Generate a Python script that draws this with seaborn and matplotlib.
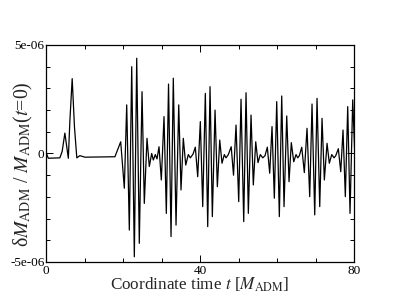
import numpy as np
import pandas as pd
import matplotlib
matplotlib.use("Agg")
import matplotlib.pyplot as plt
import seaborn as sns
from matplotlib.ticker import MultipleLocator, FixedLocator, FixedFormatter

# coordinate time [M_ADM] and relative ADM-mass change (units of 1e-6)
t = [0.0, 0.6, 3.6, 4.2, 4.9, 5.8, 6.2, 6.8, 7.4, 8.0, 8.8, 10.1, 17.9,
     19.4, 20.34, 20.96, 21.64, 22.26, 22.94, 23.56, 24.23, 24.94, 25.53,
     26.23, 26.83, 27.45, 27.87, 28.39, 28.83, 29.35, 29.95, 30.65, 31.25,
     31.82, 32.47, 33.06, 33.77, 34.47, 35.06, 35.66, 36.29, 36.96, 37.48,
     38.18, 38.78, 39.4, 40.08, 40.7, 41.38, 42.0, 42.6, 43.2, 43.9, 44.5,
     45.12, 45.71, 46.31, 46.75, 47.35, 48.1, 48.7, 49.35, 50.05, 50.65,
     51.35, 51.95, 52.55, 53.25, 53.84, 54.47, 55.06, 55.66, 56.29, 56.88,
     57.48, 58.1, 58.7, 59.3, 59.92, 60.6, 61.22, 61.82, 62.52, 63.12,
     63.71, 64.34, 64.94, 65.38, 65.8, 66.42, 67.09, 67.79, 68.49, 69.09,
     69.79, 70.39, 71.09, 71.69, 72.29, 72.99, 73.58, 74.21, 74.81, 75.25,
     75.92, 76.55, 77.14, 77.74, 78.36, 78.96, 79.66, 80.3]
dm = [0.05, -0.22, -0.2, 0.1, 0.94, -0.22, 1.5, 3.45, 1.2, -0.2, -0.1, -0.17, -0.15,
      0.54, -1.6, 2.24, -3.53, 4.0, -4.76, 4.39, -4.14, 2.85, -2.3,
      0.7, -0.6, 0.0, -0.3, -0.05, -0.25, 0.31, -1.22, 1.7, -2.76,
      3.2, -3.83, 3.47, -3.3, 2.24, -1.68, 0.7, -0.53, -0.05, -0.2,
      -0.03, 0.29, -1.07, 1.47, -2.45, 2.77, -3.37, 3.08, -2.91, 2.0, -1.53,
      0.62, -0.45, -0.05, -0.2, -0.05, 0.31, -1.0, 1.31, -2.22, 2.5,
      -3.14, 2.8, -2.76, 1.77, -1.45, 0.54, -0.42, -0.05, -0.2, -0.1,
      0.29, -0.91, 1.24, -2.06, 2.39, -2.91, 2.65, -2.45, 1.73, -1.3,
      0.5, -0.38, -0.05, -0.2, -0.1, 0.29, -0.88, 1.16, -1.99, 2.28,
      -2.83, 2.54, -2.45, 1.62, -1.22, 0.47, -0.45, -0.05, -0.2, -0.1,
      0.22, -0.84, 1.08, -1.99, 2.16, -2.76, 2.47, -0.5]

x_ticks = [0, 40, 80]
x_labels = ["0", "40", "80"]
y_ticks = [-5e-6, 0, 5e-6]
y_labels = ["-5e-06", "0", "5e-06"]

df = pd.DataFrame({"t": t, "dm": np.array(dm) * 1e-6})

sns.set_style("ticks")
plt.rcParams["font.family"] = ["Liberation Serif", "DejaVu Serif"]
plt.rcParams["mathtext.fontset"] = "stix"

fig = plt.figure(figsize=(3.99, 3.08), dpi=100)
ax = fig.add_axes([0.1153, 0.1494, 0.772, 0.7045])

sns.lineplot(data=df, x="t", y="dm", ax=ax, color="black", linewidth=0.9,
             estimator=None, sort=False)

ax.set_xlim(0, 80)
ax.set_ylim(-5e-6, 5e-6)
ax.xaxis.set_major_locator(FixedLocator(x_ticks))
ax.xaxis.set_major_formatter(FixedFormatter(x_labels))
ax.xaxis.set_minor_locator(MultipleLocator(10))
ax.yaxis.set_major_locator(FixedLocator(y_ticks))
ax.yaxis.set_major_formatter(FixedFormatter(y_labels))
ax.yaxis.set_minor_locator(MultipleLocator(1e-6))

ax.tick_params(which="both", direction="in", top=True, right=True,
               labelsize=9.5, pad=1, width=0.7, colors="black")
ax.tick_params(axis="x", which="major", pad=2)
ax.tick_params(which="major", length=5)
ax.tick_params(which="minor", length=3)
for s in ax.spines.values():
    s.set_linewidth(0.9)
    s.set_color("black")

ax.set_xlabel("Coordinate time $t$ [$M_{\\rm ADM}$]", fontsize=12.3, labelpad=-1)
ax.set_ylabel("δ$M_{\\rm ADM}$ / $M_{\\rm ADM}$($t$=0)", fontsize=14.3)
ax.yaxis.set_label_coords(-0.035, 0.45)

fig.savefig("out.png", dpi=100)
